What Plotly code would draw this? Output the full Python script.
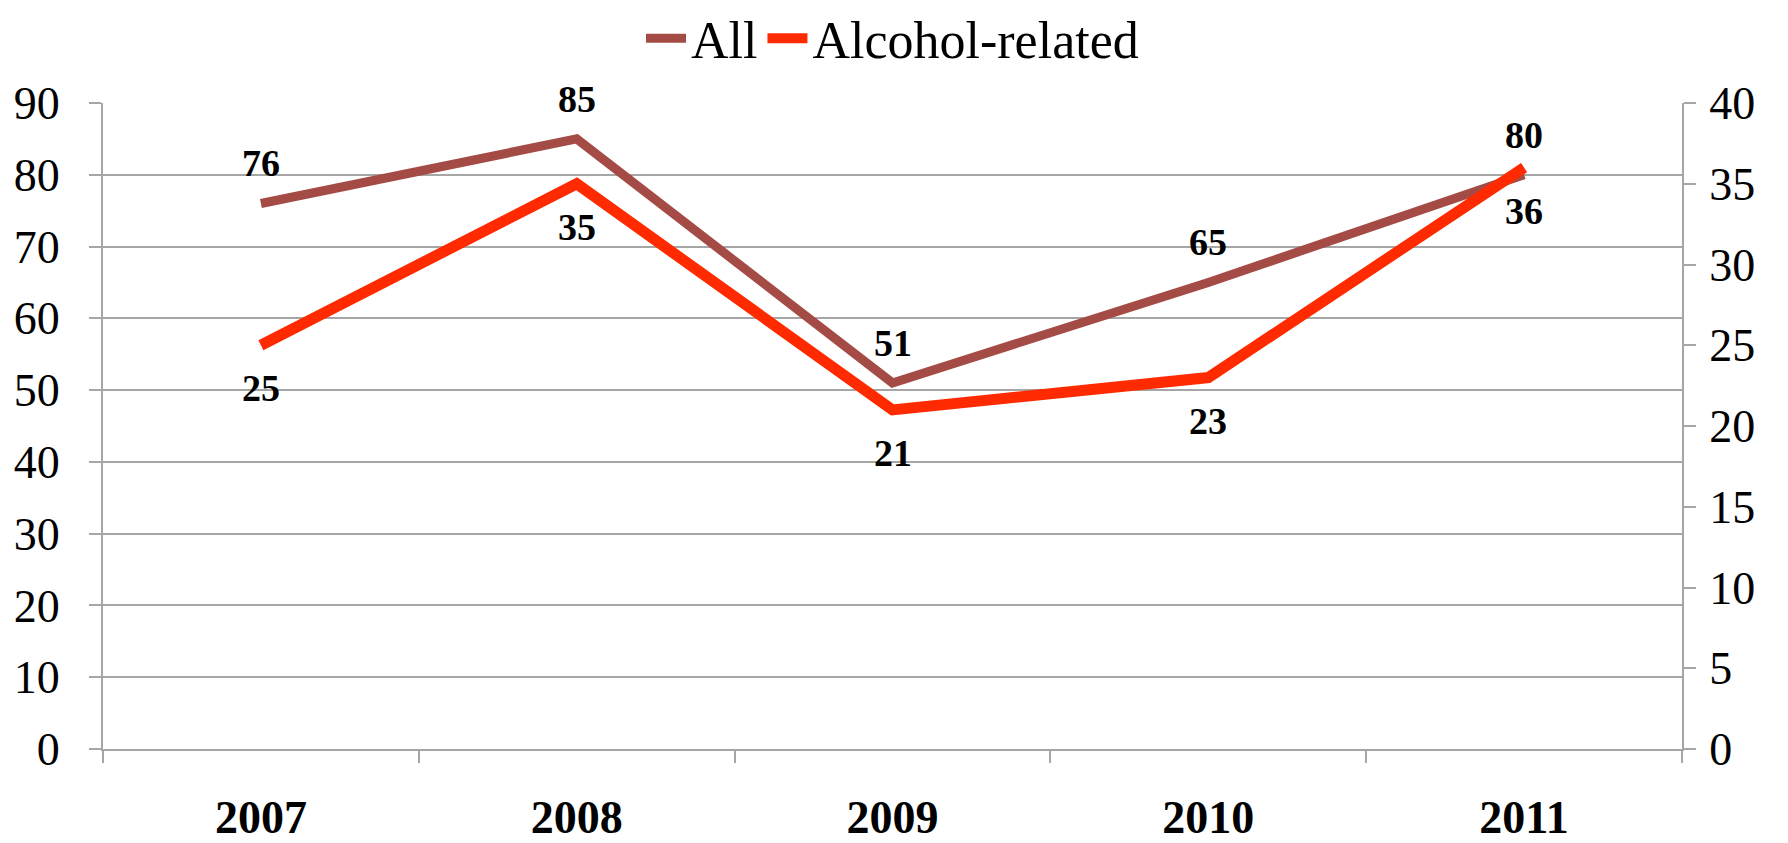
import plotly.graph_objects as go

years = ["2007", "2008", "2009", "2010", "2011"]
all_values = [76, 85, 51, 65, 80]
alcohol_values = [25, 35, 21, 23, 36]

left_ticks = [0, 10, 20, 30, 40, 50, 60, 70, 80, 90]
right_ticks = [0, 5, 10, 15, 20, 25, 30, 35, 40]

col_all = "#A44B45"
col_alc = "#FF2A00"
grid_col = "#A6A6A6"
font_family = "Liberation Serif, Times New Roman, serif"

fig = go.Figure()
fig.add_trace(go.Scatter(x=years, y=all_values, mode="lines", name="All",
                         line=dict(color=col_all, width=9), yaxis="y"))
fig.add_trace(go.Scatter(x=years, y=alcohol_values, mode="lines", name="Alcohol-related",
                         line=dict(color=col_alc, width=11), yaxis="y2"))

annotations = []
for i, v in enumerate(all_values):
    annotations.append(dict(x=i, y=v, xref="x", yref="y", text=f"<b>{v}</b>",
                            showarrow=False, yshift=40,
                            font=dict(family=font_family, size=38, color="black")))
for i, v in enumerate(alcohol_values):
    annotations.append(dict(x=i, y=v, xref="x", yref="y2", text=f"<b>{v}</b>",
                            showarrow=False, yshift=-43,
                            font=dict(family=font_family, size=38, color="black")))

fig.update_layout(
    width=1780, height=835,
    margin=dict(l=95, r=106, t=95, b=94, autoexpand=False),
    plot_bgcolor="white", paper_bgcolor="white",
    font=dict(family=font_family, color="black"),
    showlegend=True,
    legend=dict(orientation="h", x=0.5, xanchor="center", y=1.10, yanchor="middle",
                font=dict(family=font_family, size=52), itemwidth=40,
                bgcolor="rgba(0,0,0,0)"),
    xaxis=dict(type="category", range=[-0.5, 4.5], showline=True, linecolor=grid_col,
               linewidth=2, ticks="outside", tickson="boundaries", ticklen=12,
               tickcolor=grid_col, tickwidth=2, showgrid=False, automargin=False,
               tickfont=dict(family=font_family, size=46, color="black", weight="bold"),
               ticklabelstandoff=27),
    yaxis=dict(range=[0, 90], tickvals=left_ticks, showline=True, linecolor=grid_col,
               linewidth=2, ticks="outside", ticklen=12, tickcolor=grid_col, tickwidth=2,
               showgrid=True, gridcolor=grid_col, gridwidth=2, zeroline=False,
               automargin=False,
               tickfont=dict(family=font_family, size=46, color="black"),
               ticklabelstandoff=20),
    yaxis2=dict(range=[0, 40], tickvals=right_ticks, overlaying="y", side="right",
                showline=True, linecolor=grid_col, linewidth=2, ticks="outside",
                ticklen=12, tickcolor=grid_col, tickwidth=2, showgrid=False,
                zeroline=False, automargin=False,
                tickfont=dict(family=font_family, size=46, color="black"),
                ticklabelstandoff=4),
    annotations=annotations,
)

fig.write_html("out.html")
